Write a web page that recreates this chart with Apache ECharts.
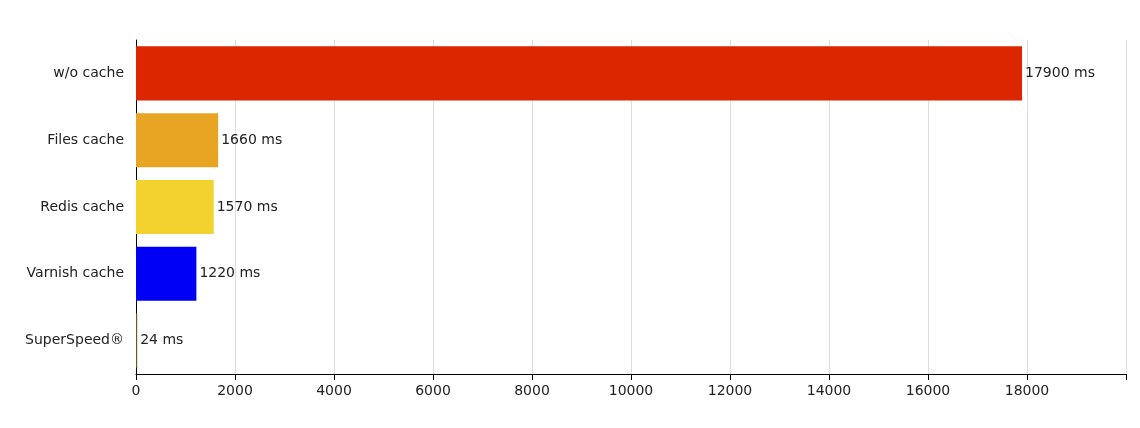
<!DOCTYPE html><html><head><meta charset="utf-8">
<script src="https://cdn.jsdelivr.net/npm/echarts@6/dist/echarts.min.js"></script>
<style>html,body{margin:0;background:#fff}#c{width:1140px;height:428px}</style></head><body><div id="c"></div>
<script>
const categories=['w/o cache','Files cache','Redis cache','Varnish cache','SuperSpeed®'];
const values=[17900,1660,1570,1220,24];
const colors=['#dc2600','#e8a423','#f3d230','#0000f5','#6b5a1e'];
const chart=echarts.init(document.getElementById('c'));
const font='DejaVu Sans';
chart.setOption({
 animation:false,
 grid:{left:136,right:14,top:40,bottom:54},
 xAxis:{type:'value',min:0,max:20000,interval:2000,
  axisLine:{show:true,lineStyle:{color:'#000'}},
  axisTick:{show:true,length:6,lineStyle:{color:'#000'}},
  axisLabel:{color:'#222',fontFamily:font,fontSize:14,margin:10,formatter:v=>v===20000?'':String(v)},
  splitLine:{lineStyle:{color:'#ddd'}}},
 yAxis:{type:'category',data:categories,inverse:true,
  axisLine:{lineStyle:{color:'#000'}},axisTick:{show:false},
  axisLabel:{color:'#222',fontFamily:font,fontSize:14,margin:12}},
 series:[{type:'bar',barCategoryGap:'19%',
  data:values.map((v,i)=>({value:v,itemStyle:{color:colors[i]}})),
  label:{show:true,position:'right',distance:3,color:'#222',fontFamily:font,fontSize:14,formatter:p=>p.value+' ms'}}]
});
</script></body></html>
